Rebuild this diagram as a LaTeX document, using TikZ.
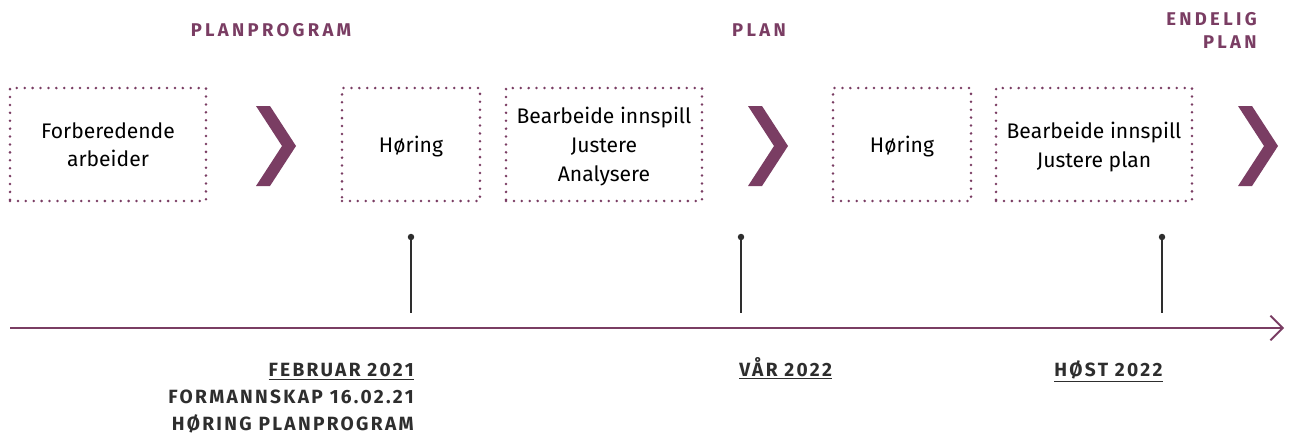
\documentclass[tikz,border=0pt]{standalone}
\usepackage{fontspec}
\setmainfont{Fira Sans}
\newfontfamily\capsfont[LetterSpace=18]{Fira Sans}
\newfontfamily\datefont[LetterSpace=12]{Fira Sans}
\usetikzlibrary{arrows.meta}
\definecolor{plum}{HTML}{7A3D63}
\definecolor{inkgrey}{HTML}{2E2E2E}

\begin{document}
\begin{tikzpicture}[
        x=0.02cm, y=-0.02cm,
        font=\fontsize{12}{16.4}\selectfont,
        stepbox/.style={draw=plum, line width=1.6pt, dash pattern=on 0pt off 4.5pt,
            line cap=round, minimum height=2.26cm, align=center, inner sep=0pt, text depth=0pt},
        phase/.style={text=plum, font=\capsfont\bfseries\fontsize{10.5}{13}\selectfont},
        datelabel/.style={text=inkgrey, font=\datefont\bfseries\fontsize{10.9}{15.3}\selectfont, inner sep=0pt},
        dot/.style={fill=inkgrey, circle, inner sep=1.3pt}
    ]
        \useasboundingbox (0,0) rectangle (1290,437);

        % --- Faser ---
        \node[phase, anchor=base] (pp) at (271,36) {PLANPROGRAM};
        \node[phase, anchor=base] (pl) at (759,36) {PLAN};
        % base = siste linje
        \node[phase, anchor=base east, align=right, inner sep=0pt] (ep) at (1257,48) {ENDELIG\\PLAN};

        % --- Arbeidsbokser ---
        \node[stepbox, minimum width=3.92cm] (forb) at (108,144.5) {Forberedende\\arbeider};
        \node[stepbox, minimum width=2.76cm] (hor1) at (411,144.5) {Høring};
        \node[stepbox, minimum width=3.92cm] (bearb1) at (604,144.5) {Bearbeide innspill\\Justere\\Analysere};
        \node[stepbox, minimum width=2.76cm] (hor2) at (902,144.5) {Høring};
        \node[stepbox, minimum width=3.92cm] (bearb2) at (1094,144.5) {Bearbeide innspill\\Justere plan};

        % --- Piler mellom fasene ---
        \foreach \x in {256,748,1238}
            \fill[plum] (\x,106) -- (\x+14,106) -- (\x+40,146) -- (\x+14,186)
                -- (\x,186) -- (\x+26,146) -- cycle;

        % --- Tidslinje ---
        \coordinate (tstart) at (10,328);
        \coordinate (tend) at (1284,328);
        \draw[plum, line width=1.3pt, -{Straight Barb[length=7pt, width=14pt, line width=1.1pt]}]
            (tstart) -- (tend);

        % Milepæler
        \foreach \x/\n in {411/a,741/b,1162/c} {
            \node[dot] (m\n) at (\x,237) {};
            \coordinate (f\n) at (\x,313);
            \draw[inkgrey, line width=0.7pt] (m\n.center) -- (f\n);
        }

        % --- Datoer ---
        \node[datelabel, anchor=base east, align=right] (feb) at (414,430)
            {\underline{FEBRUAR 2021}\\FORMANNSKAP 16.02.21\\HØRING PLANPROGRAM};
        \node[datelabel, anchor=base west] (var) at (739,376) {\underline{VÅR 2022}};
        \node[datelabel, anchor=base west] (host) at (1054,376) {\underline{HØST 2022}};

    \end{tikzpicture}
\end{document}
